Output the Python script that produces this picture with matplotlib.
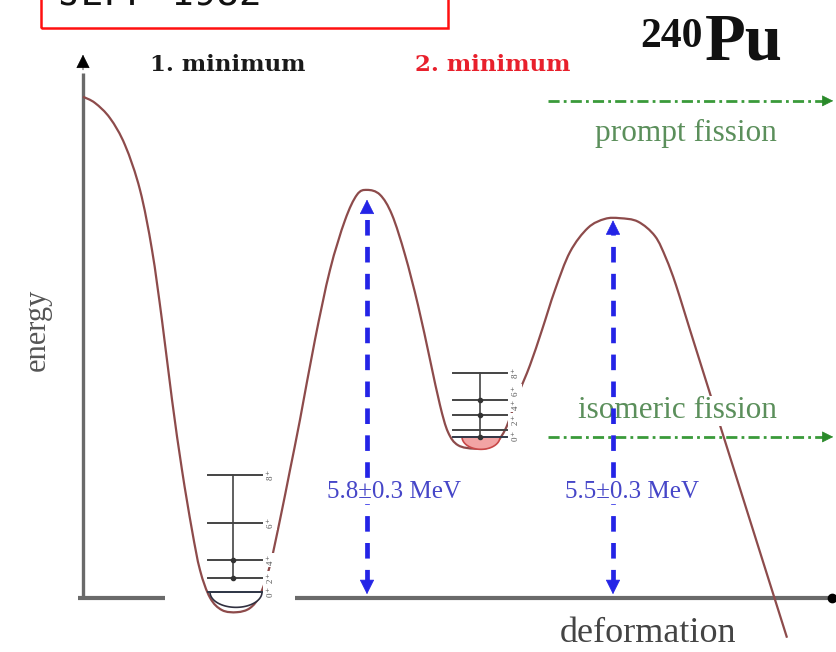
import numpy as np
import matplotlib
matplotlib.use('Agg')
import matplotlib.pyplot as plt
from matplotlib.patches import Rectangle, Polygon, PathPatch
from matplotlib.path import Path

# ---------------- data ----------------
# potential energy curve of 240Pu (deformation in arbitrary units, energy in MeV)
deformation = [83, 95, 110, 125, 140, 152, 162, 172, 182, 192, 200, 210, 222, 237,
               250, 260, 270, 280, 290, 300, 315, 330, 345, 357, 367, 380, 392, 405,
               418, 430, 440, 448, 458, 475, 492, 505, 518, 530, 542, 555, 570, 588,
               605, 620, 638, 655, 666, 676, 690, 740, 787]
energy = [7.25, 7.16, 6.94, 6.55, 5.90, 5.03, 4.01, 2.86, 1.84, 0.97, 0.39, -0.01,
          -0.19, -0.22, -0.16, 0.03, 0.46, 1.12, 1.84, 2.57, 3.73, 4.74, 5.46, 5.83,
          5.90, 5.83, 5.54, 4.96, 4.23, 3.44, 2.78, 2.39, 2.20, 2.15, 2.19, 2.42, 2.93,
          3.36, 3.87, 4.45, 5.00, 5.35, 5.48, 5.49, 5.44, 5.23, 4.91, 4.52, 3.87, 1.57,
          -0.59]

# rotational bands
band_labels = ['8$^+$', '6$^+$', '4$^+$', '2$^+$', '0$^+$']
band1_energy = [1.77, 1.07, 0.54, 0.28, 0.07]     # 1st minimum
band2_energy = [3.25, 2.86, 2.64, 2.42, 2.32]     # 2nd minimum (fission isomer)
band1_x = (208, 265, 233)   # left, right, spine
band2_x = (453, 507, 480)

# barriers
barrier_x = [367, 613]
barrier_height = [5.8, 5.5]
barrier_labels = ['5.8±0.3 MeV', '5.5±0.3 MeV']

# fission exits
fission_energy = [7.19, 2.32]
fission_labels = ['prompt fission', 'isomeric fission']

# ---------------- figure ----------------
W, H = 836, 652
PX_PER_MEV = 69.0
E0_PIX = 597.0
fig = plt.figure(figsize=(W / 100, H / 100), dpi=100)
ax = fig.add_axes([0, 0, 1, 1])
ax.set_xlim(0, W)
ax.set_ylim(-(H - E0_PIX) / PX_PER_MEV, E0_PIX / PX_PER_MEV)
ax.axis('off')

def fx(x):
    return x / W

def fy(y):
    return 1 - y / H

serif = ['Liberation Serif', 'DejaVu Serif']
T = ax.transAxes

# red box with title (cut at top)
ax.add_patch(Rectangle((fx(41), fy(28)), fx(448) - fx(41), 0.2, transform=T,
                       fill=False, edgecolor='#ff1010', lw=1.8, clip_on=False, zorder=6))
ax.text(fx(58), fy(6), 'JEFF-1982', transform=T, family='DejaVu Sans Mono',
        fontsize=27, color='#111111', va='baseline', ha='left', zorder=6)

# axes
axis_col = '#6a6a6a'
ax.plot([83, 83], [0.0, 7.6], color=axis_col, lw=2.4, solid_capstyle='butt', zorder=2)
ax.annotate('', xy=(83, 7.9), xytext=(83, 7.6),
            arrowprops=dict(arrowstyle='-|>', color='black', lw=0.5, mutation_scale=22),
            zorder=2)
ax.plot([78, 165], [-0.01, -0.01], color=axis_col, lw=3.0, solid_capstyle='butt', zorder=2)
ax.plot([295, 832], [-0.01, -0.01], color=axis_col, lw=3.0, solid_capstyle='butt', zorder=2)
ax.plot([832], [-0.01], 'o', color='black', ms=6, zorder=2)

# potential curve, drawn as a smooth Bezier path through the points
pts = np.column_stack([deformation, energy]).astype(float)
verts = [pts[0]]
codes = [Path.MOVETO]
n = len(pts)
for i in range(n - 1):
    p0 = pts[i - 1] if i > 0 else pts[i]
    p1 = pts[i]
    p2 = pts[i + 1]
    p3 = pts[i + 2] if i + 2 < n else pts[i + 1]
    c1 = p1 + (p2 - p0) / 6.0
    c2 = p2 - (p3 - p1) / 6.0
    verts += [c1, c2, p2]
    codes += [Path.CURVE4] * 3
ax.add_patch(PathPatch(Path(verts, codes), facecolor='none', edgecolor='#8d4b4b',
                       lw=1.6, zorder=3))

# wave-function half ellipses
def half_ellipse(xc, y0, half_w, depth, face, edge):
    t = np.linspace(0, np.pi, 40)
    xs = xc + half_w * np.cos(t)
    ys = y0 - depth * np.sin(t)
    ax.add_patch(Polygon(np.column_stack([xs, ys]), closed=True, facecolor=face,
                         edgecolor=edge, lw=1.2, zorder=4))

half_ellipse(236, band1_energy[-1], 26, 0.22, 'white', '#303040')
half_ellipse(481, band2_energy[-1], 19, 0.18, '#f2a4a4', '#c84848')

# rotational bands
def band(levels, xs, label_x, dots, label_pos):
    l, r, s = xs
    for i, e in enumerate(levels):
        col = '#303848' if i == len(levels) - 1 else '#444444'
        ax.plot([l, r], [e, e], color=col, lw=1.4, zorder=4)
        ax.text(label_x, label_pos[i], band_labels[i], rotation=90, fontsize=6.5,
                color='#555555', ha='center', va='center', family=serif, zorder=5,
                bbox=dict(facecolor='white', edgecolor='none', pad=0.6))
    ax.plot([s, s], [levels[0], levels[dots[-1]]], color='#444444', lw=1.2, zorder=4)
    ax.plot([s] * len(dots), [levels[d] for d in dots], 'o', color='#333333', ms=3,
            zorder=4)

band(band1_energy, band1_x, 270, [2, 3], band1_energy)
band(band2_energy, band2_x, 515, [1, 2, 4], [3.25, 2.99, 2.79, 2.57, 2.33])

# fission exit lines
for e, lab, tx, ty in zip(fission_energy, fission_labels, [686, 677], [133, 411]):
    ax.plot([548, 826], [e, e], color='#3a9a3a', lw=2.0, linestyle=(0, (4, 1.5, 1, 1.5)),
            zorder=4)
    ax.annotate('', xy=(836, e), xytext=(822, e),
                arrowprops=dict(arrowstyle='-|>', color='#2a8a2a', lw=0.5,
                                mutation_scale=18), zorder=4)
    ax.text(fx(tx), fy(ty), lab, transform=T, family=serif, fontsize=22.5,
            color='#5b8f5b', ha='center', va='center', zorder=4,
            bbox=dict(facecolor='white', edgecolor='none', pad=0.5))

# barrier arrows
blue = '#2424e6'
for x, h in zip(barrier_x, barrier_height):
    ax.plot([x, x], [0.18, h - 0.18], color=blue, lw=3.4, linestyle=(0, (3.3, 2.4)),
            solid_capstyle='butt', zorder=5)
    ax.annotate('', xy=(x, h), xytext=(x, h - 0.2),
                arrowprops=dict(arrowstyle='-|>', color=blue, lw=0.5, mutation_scale=24),
                zorder=5)
    ax.annotate('', xy=(x, 0.0), xytext=(x, 0.2),
                arrowprops=dict(arrowstyle='-|>', color=blue, lw=0.5, mutation_scale=24),
                zorder=5)

for lab, tx in zip(barrier_labels, [394, 632]):
    ax.text(fx(tx), fy(492), lab, transform=T, family=serif, fontsize=18,
            color='#4646c8', ha='center', va='center', zorder=6,
            bbox=dict(facecolor='white', edgecolor='none', pad=0.5))

# labels
ax.text(fx(228), fy(65), '1. minimum', transform=T, family='DejaVu Serif',
        fontweight='bold', fontsize=16.5, color='#1a1a1a', ha='center', va='center')
ax.text(fx(493), fy(65), '2. minimum', transform=T, family='DejaVu Serif',
        fontweight='bold', fontsize=16.5, color='#e8202c', ha='center', va='center')
ax.text(fx(640), fy(47), '240', transform=T, family=serif, fontweight='bold',
        fontsize=30, color='#111111', ha='left', va='baseline')
ax.text(fx(705), fy(60), 'Pu', transform=T, family=serif, fontweight='bold',
        fontsize=48, color='#111111', ha='left', va='baseline')
ax.text(fx(37), fy(330), 'energy', transform=T, family=serif, fontsize=22,
        color='#555555', rotation=90, ha='center', va='center')
ax.text(fx(648), fy(633), 'deformation', transform=T, family=serif, fontsize=26,
        color='#444444', ha='center', va='center')

fig.savefig('out.png', dpi=100)
